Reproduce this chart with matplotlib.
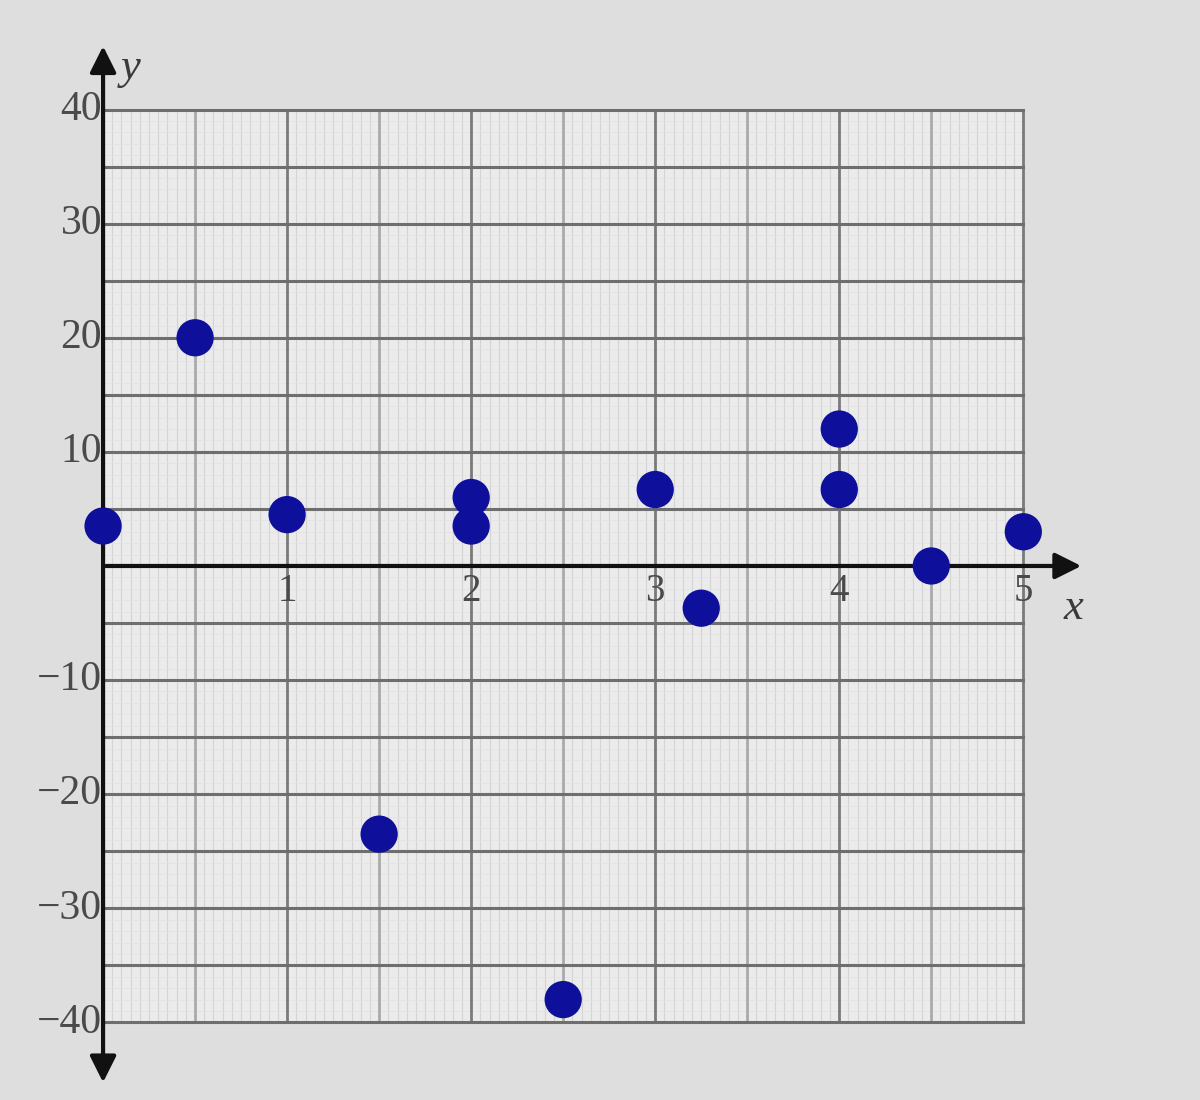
import matplotlib
matplotlib.use('Agg')

import matplotlib.pyplot as plt
import numpy as np

# data
x_vals = [0, 0.5, 1, 1.5, 2, 2, 2.5, 3, 3.25, 4, 4, 4.5, 5]
y_vals = [3.5, 20, 4.5, -23.5, 6, 3.5, -38, 6.7, -3.7, 12, 6.7, 0, 3]

x_ticks = [1, 2, 3, 4, 5]
y_ticks = [40, 30, 20, 10, -10, -20, -30, -40]

X_MIN, X_MAX = 0, 5
Y_MIN, Y_MAX = -40, 40

fig = plt.figure(figsize=(12, 11), dpi=100)
fig.patch.set_facecolor('#dedede')
ax = fig.add_axes([0, 0, 1, 1])
ax.set_xlim(-0.56, 5.96)
ax.set_ylim(-46.8, 49.6)
ax.axis('off')

# paper background
ax.add_patch(plt.Rectangle((X_MIN, Y_MIN), X_MAX - X_MIN, Y_MAX - Y_MIN,
                           facecolor='#ebebeb', edgecolor='none', zorder=0))

# fine texture lines (screen moire)
for xv in np.arange(X_MIN, X_MAX + 1e-9, 0.05):
    ax.plot([xv, xv], [Y_MIN, Y_MAX], color='#d4d4d4', lw=0.8, zorder=1)
for yv in np.arange(Y_MIN, Y_MAX + 1e-9, 1):
    ax.plot([X_MIN, X_MAX], [yv, yv], color='#e1e1e1', lw=0.5, zorder=1)

# grid
for xv in np.arange(X_MIN, X_MAX + 1e-9, 0.5):
    col = '#7a7a7a' if abs(xv - round(xv)) < 1e-9 else '#aaaaaa'
    ax.plot([xv, xv], [Y_MIN, Y_MAX], color=col, lw=2.0, zorder=2)
for yv in np.arange(Y_MIN, Y_MAX + 1e-9, 5):
    ax.plot([X_MIN, X_MAX], [yv, yv], color='#6e6e6e', lw=2.2, zorder=2)

# axes with arrows
ax.annotate('', xy=(0, 45.8), xytext=(0, -45.5),
            arrowprops=dict(arrowstyle='<|-|>', color='#111111', lw=3,
                            mutation_scale=40), zorder=4)
ax.annotate('', xy=(5.33, 0), xytext=(0, 0),
            arrowprops=dict(arrowstyle='-|>', color='#111111', lw=3,
                            mutation_scale=40), zorder=4)

# tick labels
for yv in y_ticks:
    lab = str(yv).replace('-', '\u2212')
    ax.text(-0.005, yv, lab, ha='right', va='center', fontsize=30,
            family='Liberation Serif', color='#4a4a4a', zorder=5)
for xv in x_ticks:
    ax.text(xv, -0.6, str(xv), ha='center', va='top', fontsize=28,
            family='Liberation Serif', color='#4a4a4a', zorder=5)

ax.text(5.27, -3.7, 'x', ha='center', va='center', fontsize=32,
        family='Liberation Serif', style='italic', color='#3a3a3a', zorder=5)
ax.text(0.15, 43.6, 'y', ha='center', va='center', fontsize=32,
        family='Liberation Serif', style='italic', color='#3a3a3a', zorder=5)

# points
ax.scatter(x_vals, y_vals, s=720, color='#0e109c', edgecolors='none',
           zorder=6, clip_on=False)

fig.savefig('out.png', dpi=100, facecolor=fig.get_facecolor())
